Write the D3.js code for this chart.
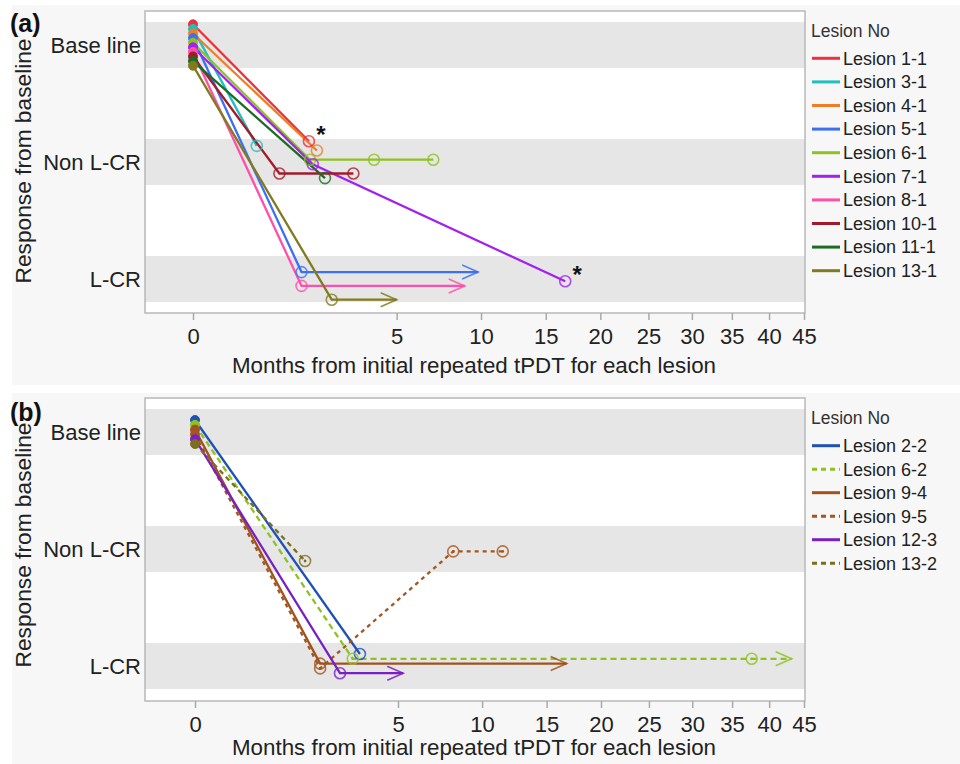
<!DOCTYPE html>
<html>
<head>
<meta charset="utf-8">
<script src="https://cdn.jsdelivr.net/npm/d3@7"></script>
<style>
  body { margin: 0; background: #ffffff; }
  svg { display: block; font-family: "Liberation Sans", Arial, sans-serif; }
</style>
</head>
<body>
<svg id="chart" width="960" height="764"></svg>
<script>
// ---------------- DATA ----------------
const categories = ["Base line", "Non L-CR", "L-CR"];
const xTickValues = [0, 5, 10, 15, 20, 25, 30, 35, 40, 45];
const xTitle = "Months from initial repeated tPDT for each lesion";
const yTitle = "Response from baseline";
const legendTitle = "Lesion No";

// Panel (a)
const lesionsA = ["Lesion 1-1", "Lesion 3-1", "Lesion 4-1", "Lesion 5-1", "Lesion 6-1",
                  "Lesion 7-1", "Lesion 8-1", "Lesion 10-1", "Lesion 11-1", "Lesion 13-1"];
const monthsA = [[0, 1.62], [0, 0.49], [0, 1.85], [0, 1.42], [0, 1.65, 3.95, 6.96],
                 [0, 1.73, 16.7], [0, 1.42], [0, 0.90, 3.10], [0, 2.10], [0, 2.32]];
const responsesA = [
  ["Base line", "Non L-CR"], ["Base line", "Non L-CR"], ["Base line", "Non L-CR"],
  ["Base line", "L-CR"], ["Base line", "Non L-CR", "Non L-CR", "Non L-CR"],
  ["Base line", "Non L-CR", "L-CR"], ["Base line", "L-CR"],
  ["Base line", "Non L-CR", "Non L-CR"], ["Base line", "Non L-CR"], ["Base line", "L-CR"]];
const continuingToA = [null, null, null, 9.8, null, null, 8.9, null, null, 5.0];
const asteriskPointA = [1, null, null, null, null, 2, null, null, null, null];

// Panel (b)
const lesionsB = ["Lesion 2-2", "Lesion 6-2", "Lesion 9-4", "Lesion 9-5", "Lesion 12-3", "Lesion 13-2"];
const monthsB = [[0, 3.30], [0, 3.02, 37.6], [0, 1.90], [0, 1.90, 8.09, 11.49], [0, 2.55], [0, 1.47]];
const responsesB = [
  ["Base line", "L-CR"], ["Base line", "L-CR", "L-CR"], ["Base line", "L-CR"],
  ["Base line", "L-CR", "Non L-CR", "Non L-CR"], ["Base line", "L-CR"], ["Base line", "Non L-CR"]];
const continuingToB = [null, 43.2, 16.76, null, 5.26, null];
const asteriskPointB = [null, null, null, null, null, null];

// ---------------- STYLES ----------------
const colorsA = ["#ee2f3d", "#22bdbf", "#f07d23", "#3b70f2", "#8dc21f",
                 "#a321f0", "#ff4fa8", "#a31b2b", "#1b6b23", "#827a1e"];
const dashesA = [null, null, null, null, null, null, null, null, null, null];
const colorsB = ["#1f50b4", "#8dc21f", "#a0521e", "#a3561f", "#7a1fc2", "#7d6e1e"];
const dashesB = [null, "6,4", null, "4,4", null, "5,4"];

const panels = [
  { label: "(a)", lesions: lesionsA, months: monthsA, responses: responsesA,
    continuingTo: continuingToA, asterisk: asteriskPointA, colors: colorsA, dashes: dashesA,
    top: 11, bottom: 313, xRange: [193, 804], bgTop: 5, bgBottom: 385, step: 4.6,
    labelY: 31.5, legendTitleY: 31, legendY0: 58.3, legendStep: 23.6, yTitleY: 161, xTitleY: 373 },
  { label: "(b)", lesions: lesionsB, months: monthsB, responses: responsesB,
    continuingTo: continuingToB, asterisk: asteriskPointB, colors: colorsB, dashes: dashesB,
    top: 398, bottom: 701, xRange: [195, 804], bgTop: 393, bgBottom: 764, step: 4.8,
    labelY: 421, legendTitleY: 418, legendY0: 445.7, legendStep: 23.5, yTitleY: 545, xTitleY: 755 }
];

const FRAME_L = 145, FRAME_R = 805;
const svg = d3.select("#chart");

function drawPanel(p) {
  const g = svg.append("g");
  g.append("rect").attr("x", 12).attr("y", p.bgTop).attr("width", 948)
    .attr("height", p.bgBottom - p.bgTop).attr("fill", "#f7f7f7");

  const x = d3.scaleSqrt().domain([0, 45]).range(p.xRange);
  const y = d3.scalePoint().domain(categories).range([p.top + 34, p.top + 268]);

  // plot area
  g.append("rect").attr("x", FRAME_L).attr("y", p.top).attr("width", FRAME_R - FRAME_L)
    .attr("height", p.bottom - p.top).attr("fill", "#ffffff");
  g.selectAll("rect.band").data(categories).join("rect").attr("class", "band")
    .attr("x", FRAME_L).attr("y", d => y(d) - 23).attr("width", FRAME_R - FRAME_L)
    .attr("height", 46).attr("fill", "#e6e6e6");
  g.append("rect").attr("x", FRAME_L).attr("y", p.top).attr("width", FRAME_R - FRAME_L)
    .attr("height", p.bottom - p.top).attr("fill", "none")
    .attr("stroke", "#b8b8b8").attr("stroke-width", 1.5);

  // x axis
  const ax = g.append("g").attr("transform", `translate(0,${p.bottom})`)
    .call(d3.axisBottom(x).tickValues(xTickValues).tickSize(7).tickFormat(d3.format("d")));
  ax.select(".domain").remove();
  ax.selectAll(".tick line").attr("stroke", "#aaaaaa").attr("stroke-width", 1.5);
  ax.selectAll(".tick text").attr("y", 15).attr("font-size", 22)
    .attr("font-family", "'Liberation Sans', Arial, sans-serif").attr("fill", "#222");

  g.append("text").attr("x", 474).attr("y", p.xTitleY).attr("text-anchor", "middle")
    .attr("font-size", 22).attr("fill", "#222")
    .attr("textLength", 484).attr("lengthAdjust", "spacingAndGlyphs").text(xTitle);

  // y category labels
  g.selectAll("text.cat").data(categories).join("text").attr("class", "cat")
    .attr("x", 141).attr("y", d => y(d)).attr("dy", "0.35em").attr("text-anchor", "end")
    .attr("font-size", 22).attr("fill", "#222").text(d => d);

  // y title
  g.append("text").attr("transform", `translate(31,${p.yTitleY}) rotate(-90)`)
    .attr("text-anchor", "middle").attr("font-size", 22.5).attr("fill", "#222")
    .attr("textLength", 245).attr("lengthAdjust", "spacingAndGlyphs").text(yTitle);

  // panel label
  g.append("text").attr("x", 10).attr("y", p.labelY).attr("font-size", 25)
    .attr("font-weight", "bold").attr("fill", "#111").text(p.label);

  // series
  const n = p.lesions.length;
  const line = d3.line();
  const series = p.lesions.map((name, i) => {
    const off = (i - (n - 1) / 2) * p.step;
    const pts = p.months[i].map((m, j) => [x(m), y(p.responses[i][j]) + off]);
    return { name, i, pts, off };
  });

  const linesG = g.append("g");
  series.forEach(s => {
    const color = p.colors[s.i], dash = p.dashes[s.i];
    const all = s.pts.slice();
    const cont = p.continuingTo[s.i];
    const last = s.pts[s.pts.length - 1];
    if (cont != null) all.push([x(cont), last[1]]);
    linesG.append("path").attr("d", line(all)).attr("fill", "none")
      .attr("stroke", color).attr("stroke-width", 2.3)
      .attr("stroke-dasharray", dash);
    if (cont != null) {
      const tx = x(cont), ty = last[1];
      linesG.append("path")
        .attr("d", line([[tx - 16, ty - 7], [tx, ty], [tx - 16, ty + 7]]))
        .attr("fill", "none").attr("stroke", color).attr("stroke-width", 1.6)
        .attr("stroke-opacity", 0.85);
    }
  });

  const markG = g.append("g");
  series.forEach(s => {
    const color = p.colors[s.i], dash = p.dashes[s.i];
    s.pts.forEach((pt, j) => {
      if (j === 0) {
        markG.append("circle").attr("cx", pt[0]).attr("cy", pt[1]).attr("r", 4.5)
          .attr("fill", color).attr("stroke", color).attr("stroke-width", 1);
      } else {
        markG.append("circle").attr("cx", pt[0]).attr("cy", pt[1]).attr("r", 5.5)
          .attr("fill", "none").attr("stroke", color).attr("stroke-width", 1.6)
          .attr("stroke-opacity", 0.8);
        if (dash) {
          markG.append("circle").attr("cx", pt[0]).attr("cy", pt[1]).attr("r", 1.4)
            .attr("fill", color);
        }
      }
    });
    const a = p.asterisk[s.i];
    if (a != null) {
      const pt = s.pts[a];
      markG.append("text").attr("x", pt[0] + 12).attr("y", pt[1] + 2)
        .attr("text-anchor", "middle").attr("font-size", 24).attr("font-weight", "bold")
        .attr("fill", "#111").text("*");
    }
  });

  // legend
  const lg = g.append("g");
  lg.append("text").attr("x", 811).attr("y", p.legendTitleY).attr("dy", "0.35em")
    .attr("font-size", 17.5).attr("fill", "#333").text(legendTitle);
  p.lesions.forEach((name, i) => {
    const ly = p.legendY0 + i * p.legendStep;
    lg.append("line").attr("x1", 812).attr("x2", 840).attr("y1", ly).attr("y2", ly)
      .attr("stroke", p.colors[i]).attr("stroke-width", 3)
      .attr("stroke-dasharray", p.dashes[i] ? "5,4" : null);
    lg.append("text").attr("x", 843).attr("y", ly).attr("dy", "0.35em")
      .attr("font-size", 18).attr("fill", "#222").text(name);
  });
}

panels.forEach(drawPanel);
</script>
</body>
</html>
